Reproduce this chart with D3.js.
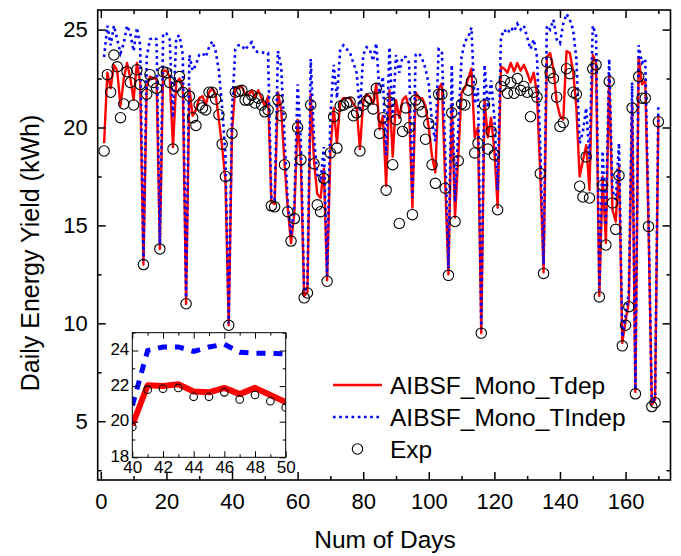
<!DOCTYPE html>
<html><head><meta charset="utf-8">
<script src="https://cdn.jsdelivr.net/npm/d3@7/dist/d3.min.js"></script>
<style>body{margin:0;background:#fff} text{font-family:"Liberation Sans",Arial,sans-serif;fill:#000}</style>
</head><body><svg id="c" width="681" height="556"></svg>
<script>
// Model AIBSF_Mono_Tdep (red), days 1..170
const tdep = [
19.2,22.8,22.0,23.2,22.9,21.1,22.5,23.3,22.5,21.4,
23.3,22.3,13.0,22.1,22.6,22.5,22.5,13.8,22.9,22.9,
22.6,19.0,22.3,22.5,22.2,11.0,22.0,20.6,20.9,21.5,
21.6,21.15,21.8,22.0,21.7,20.4,19.0,17.3,9.9,19.8,
22.05,22.0,22.1,21.7,21.65,21.9,21.55,21.9,21.5,21.1,
21.6,16.2,16.1,21.8,20.9,18.2,15.9,14.1,15.6,20.4,
18.2,11.4,11.6,21.7,18.3,16.6,16.4,17.9,12.2,18.8,
21.0,19.2,21.3,21.5,21.5,21.5,21.2,21.0,18.9,21.3,
21.7,21.6,21.2,22.2,19.9,20.6,17.0,21.9,18.5,21.4,
20.5,21.4,21.6,21.0,15.9,21.8,21.5,21.5,21.1,20.0,
18.5,17.7,22.0,22.25,17.2,12.5,21.2,15.4,18.6,21.8,
22.0,22.5,23.0,19.5,20.0,9.5,21.4,19.5,20.5,18.8,
15.9,23.1,23.0,22.8,23.3,22.85,23.3,22.9,23.2,22.8,
22.3,22.8,21.7,17.6,12.6,23.6,23.8,23.0,21.3,20.6,
20.4,23.9,23.8,22.9,21.0,17.5,18.3,19.1,16.8,23.7,
23.3,11.4,17.5,14.1,22.7,15.8,15.2,18.1,9.0,10.1,
11.1,21.2,6.5,23.6,22.2,22.4,15.0,5.85,6.1,20.6];
// Model AIBSF_Mono_TIndep (blue dotted)
const tindep = [
23.6,25.2,24.2,25.2,24.5,23.8,24.3,25.2,24.8,23.9,
25.1,24.2,13.2,23.6,24.5,24.6,24.5,14.0,24.8,24.8,
24.5,20.5,24.6,24.7,23.7,11.3,23.7,22.9,23.2,23.7,
23.8,23.6,24.1,24.4,23.9,22.9,21.0,18.6,10.0,20.9,
24.0,24.2,24.2,23.95,24.2,24.35,23.9,23.85,23.85,23.8,
23.8,16.4,16.3,23.9,23.1,19.5,16.2,14.5,16.0,22.2,
19.3,11.6,11.9,23.5,19.5,17.6,17.2,19.0,12.4,20.6,
23.2,21.5,24.0,24.2,24.0,23.8,23.3,22.8,20.8,23.7,
24.1,24.0,23.4,24.3,21.7,22.6,18.6,24.1,20.5,23.7,
22.8,23.6,23.6,23.3,16.4,23.7,23.8,23.5,23.0,22.2,
20.2,19.3,24.0,23.9,18.8,12.8,23.2,16.2,20.0,23.6,
24.4,24.6,25.1,21.2,22.0,9.7,23.2,21.0,22.4,20.5,
16.8,24.6,25.0,24.8,25.1,24.9,25.3,25.0,25.2,24.6,
24.0,24.5,23.6,19.0,13.0,25.2,25.0,25.5,24.5,24.3,
25.3,25.8,25.5,25.0,23.5,19.2,19.8,21.0,18.4,25.2,
24.7,11.7,18.8,15.0,23.5,16.8,16.3,19.2,9.3,10.4,
11.6,22.3,6.6,24.2,23.3,23.5,15.5,5.9,6.2,21.2];
// Experimental (circles)
const expData = [
18.8,22.7,21.8,23.7,23.1,20.5,21.2,22.85,22.3,21.15,
22.95,22.2,13.0,21.7,22.7,22.3,22.0,13.8,22.85,22.8,
22.3,18.9,22.1,22.6,21.8,11.0,21.6,20.5,20.1,21.15,
21.0,20.9,21.8,21.8,21.45,20.65,19.15,17.5,9.9,19.7,
21.8,21.85,21.9,21.4,21.4,21.65,21.25,21.5,21.15,20.8,
20.9,16.0,15.95,21.4,20.6,18.1,15.7,14.2,15.35,20.0,
18.35,11.3,11.55,21.15,18.15,16.05,15.7,17.4,12.15,18.7,
20.55,18.95,21.1,21.15,21.25,21.3,20.6,20.75,18.8,21.15,
21.35,21.5,20.95,22.0,19.7,20.5,16.8,21.3,18.1,20.4,
15.1,19.8,21.0,20.0,15.55,21.4,21.15,20.8,19.4,20.2,
18.1,17.15,21.7,21.7,16.9,12.45,20.75,15.2,18.3,21.2,
21.15,21.9,22.35,18.7,19.2,9.5,21.15,18.9,19.8,18.6,
15.8,22.1,22.4,21.75,22.3,21.75,22.5,21.9,22.1,21.8,
20.55,21.8,21.55,17.65,12.55,23.35,22.8,22.5,21.55,20.05,
20.25,23.0,22.75,21.8,21.7,17.0,16.45,18.5,16.4,23.0,
23.2,11.35,17.05,14.0,22.35,16.15,14.8,17.55,8.85,9.9,
10.85,21.0,6.4,22.6,21.5,21.5,14.95,5.75,5.95,20.3];
const firstDay = 1;
const xTicks = [0,20,40,60,80,100,120,140,160];
const xMinor = [10,30,50,70,90,110,130,150,170];
const yTicks = [5,10,15,20,25];
const yMinor = [2.5,7.5,12.5,17.5,22.5];
const insetXTicks = [40,42,44,46,48,50];
const insetXMinor = [41,43,45,47,49];
const insetYTicks = [18,20,22,24];
const insetYMinor = [19,21,23,25];
const insetRange = [40,50];
const legendLabels = ["AIBSF_Mono_Tdep","AIBSF_Mono_TIndep","Exp"];
const xTitle = "Num of Days", yTitle = "Daily Energy Yield (kWh)";

const svg = d3.select("#c");
const L=97.7,R=670.5,T=10,B=480;
const x = d3.scaleLinear().domain([-0.95,173.7]).range([L,R]);
const y = d3.scaleLinear().domain([2,26]).range([B,T]);
const mk = (arr)=>arr.map((v,i)=>({d:i+firstDay,v}));
const red = mk(tdep), blue = mk(tindep), ex = mk(expData);

svg.append("clipPath").attr("id","cm").append("rect").attr("x",L).attr("y",T).attr("width",R-L).attr("height",B-T);
const line = d3.line().x(p=>x(p.d)).y(p=>y(p.v));
const gM = svg.append("g").attr("clip-path","url(#cm)");
gM.append("path").attr("d",line(red)).attr("fill","none").attr("stroke","#ff0000").attr("stroke-width",2.4).attr("stroke-linejoin","round");
gM.append("path").attr("d",line(blue)).attr("fill","none").attr("stroke","#0000ff").attr("stroke-width",2.6).attr("stroke-dasharray","2.6,3.6");
gM.selectAll("circle").data(ex).join("circle").attr("cx",p=>x(p.d)).attr("cy",p=>y(p.v)).attr("r",5.2)
  .attr("fill","none").attr("stroke","#000").attr("stroke-width",1.1);

function styleAxis(g,fs){g.select(".domain").remove();g.selectAll("line").attr("stroke","#000").attr("stroke-width",1.5);g.selectAll("text").style("font-size",fs+"px").attr("fill","#000");}
svg.append("g").attr("transform",`translate(0,${B})`).call(d3.axisBottom(x).tickValues(xTicks).tickSize(-8).tickPadding(13)).call(g=>styleAxis(g,22));
svg.append("g").attr("transform",`translate(0,${B})`).call(d3.axisBottom(x).tickValues(xMinor.filter(v=>x(v)<R)).tickSize(-4).tickFormat("")).call(g=>styleAxis(g,22));
svg.append("g").attr("transform",`translate(0,${T})`).call(d3.axisTop(x).tickValues(xTicks).tickSize(-8).tickFormat("")).call(g=>styleAxis(g,22));
svg.append("g").attr("transform",`translate(0,${T})`).call(d3.axisTop(x).tickValues(xMinor.filter(v=>x(v)<R)).tickSize(-4).tickFormat("")).call(g=>styleAxis(g,22));
svg.append("g").attr("transform",`translate(${L},0)`).call(d3.axisLeft(y).tickValues(yTicks).tickSize(-8).tickPadding(10)).call(g=>styleAxis(g,22));
svg.append("g").attr("transform",`translate(${L},0)`).call(d3.axisLeft(y).tickValues(yMinor).tickSize(-4).tickFormat("")).call(g=>styleAxis(g,22));
svg.append("g").attr("transform",`translate(${R},0)`).call(d3.axisRight(y).tickValues(yTicks).tickSize(-8).tickFormat("")).call(g=>styleAxis(g,22));
svg.append("g").attr("transform",`translate(${R},0)`).call(d3.axisRight(y).tickValues(yMinor).tickSize(-4).tickFormat("")).call(g=>styleAxis(g,22));
svg.append("rect").attr("x",L).attr("y",T).attr("width",R-L).attr("height",B-T).attr("fill","none").attr("stroke","#000").attr("stroke-width",1.6);

svg.append("text").attr("x",385).attr("y",548).attr("text-anchor","middle").style("font-size","24.5px").text(xTitle);
svg.append("text").attr("transform","translate(39,253) rotate(-90)").attr("text-anchor","middle").style("font-size","25px").text(yTitle);

// legend
const lg = svg.append("g");
const ly=[385,417,449];
lg.append("line").attr("x1",333).attr("x2",382).attr("y1",ly[0]).attr("y2",ly[0]).attr("stroke","#ff0000").attr("stroke-width",2.4);
lg.append("line").attr("x1",333).attr("x2",382).attr("y1",ly[1]).attr("y2",ly[1]).attr("stroke","#0000ff").attr("stroke-width",2.6).attr("stroke-dasharray","2.6,3.6");
lg.append("circle").attr("cx",357.5).attr("cy",ly[2]).attr("r",5.2).attr("fill","none").attr("stroke","#000").attr("stroke-width",1.1);
legendLabels.forEach((t,i)=>lg.append("text").attr("x",390).attr("y",ly[i]).attr("dy","0.36em").style("font-size","24.5px").text(t));

// inset
const IL=132.3,IR=285.7,IT=332.7,IB=457.3;
const xi = d3.scaleLinear().domain(insetRange).range([IL,IR]);
const yi = d3.scaleLinear().domain([18,25]).range([IB,IT]);
svg.append("rect").attr("x",IL).attr("y",IT).attr("width",IR-IL).attr("height",IB-IT).attr("fill","#fff");
svg.append("clipPath").attr("id","ci").append("rect").attr("x",IL).attr("y",IT).attr("width",IR-IL).attr("height",IB-IT);
const inR = p=>p.d>=insetRange[0]&&p.d<=insetRange[1];
const linei = d3.line().x(p=>xi(p.d)).y(p=>yi(p.v));
const gI = svg.append("g").attr("clip-path","url(#ci)");
gI.append("path").attr("d",linei(red.filter(inR))).attr("fill","none").attr("stroke","#ff0000").attr("stroke-width",6).attr("stroke-linejoin","round");
gI.append("path").attr("d",linei(blue.filter(inR))).attr("fill","none").attr("stroke","#0000ff").attr("stroke-width",5).attr("stroke-dasharray","9,8");
gI.selectAll("circle").data(ex.filter(inR)).join("circle").attr("cx",p=>xi(p.d)).attr("cy",p=>yi(p.v)).attr("r",3.8)
  .attr("fill","none").attr("stroke","#000").attr("stroke-width",1.1);
const fmt = d3.format("d");
function thin(g){g.selectAll("line").attr("stroke-width",1);}
svg.append("g").attr("transform",`translate(0,${IB})`).call(d3.axisBottom(xi).tickValues(insetXTicks).tickSize(-6).tickPadding(4).tickFormat(fmt)).call(g=>{styleAxis(g,17);thin(g);});
svg.append("g").attr("transform",`translate(0,${IB})`).call(d3.axisBottom(xi).tickValues(insetXMinor).tickSize(-3).tickFormat("")).call(g=>{styleAxis(g,17);thin(g);});
svg.append("g").attr("transform",`translate(0,${IT})`).call(d3.axisTop(xi).tickValues(insetXTicks).tickSize(-6).tickFormat("")).call(g=>{styleAxis(g,17);thin(g);});
svg.append("g").attr("transform",`translate(0,${IT})`).call(d3.axisTop(xi).tickValues(insetXMinor).tickSize(-3).tickFormat("")).call(g=>{styleAxis(g,17);thin(g);});
svg.append("g").attr("transform",`translate(${IL},0)`).call(d3.axisLeft(yi).tickValues(insetYTicks).tickSize(-6).tickPadding(3).tickFormat(fmt)).call(g=>{styleAxis(g,17);thin(g);g.selectAll("text").attr("dy","0.25em");});
svg.append("g").attr("transform",`translate(${IL},0)`).call(d3.axisLeft(yi).tickValues(insetYMinor).tickSize(-3).tickFormat("")).call(g=>{styleAxis(g,17);thin(g);});
svg.append("g").attr("transform",`translate(${IR},0)`).call(d3.axisRight(yi).tickValues(insetYTicks).tickSize(-6).tickFormat("")).call(g=>{styleAxis(g,17);thin(g);});
svg.append("g").attr("transform",`translate(${IR},0)`).call(d3.axisRight(yi).tickValues(insetYMinor).tickSize(-3).tickFormat("")).call(g=>{styleAxis(g,17);thin(g);});
svg.append("rect").attr("x",IL).attr("y",IT).attr("width",IR-IL).attr("height",IB-IT).attr("fill","none").attr("stroke","#000").attr("stroke-width",1);
</script></body></html>
